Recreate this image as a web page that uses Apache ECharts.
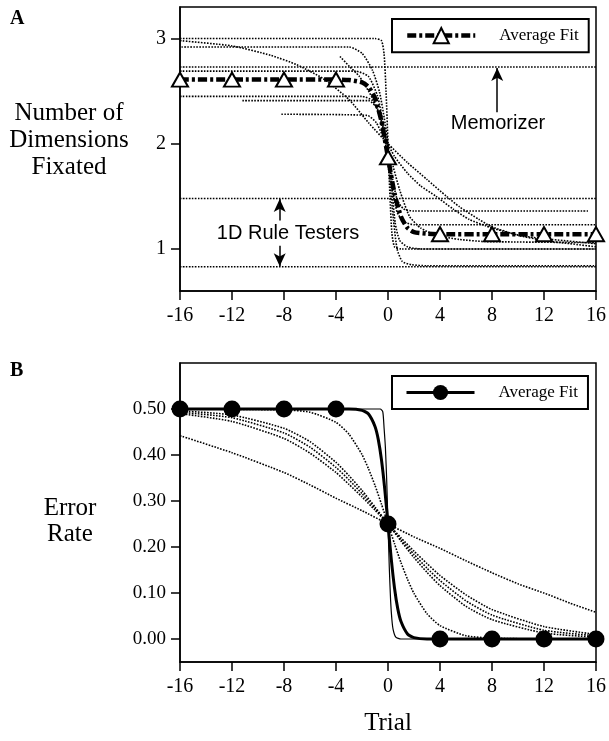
<!DOCTYPE html>
<html>
<head>
    <meta charset="utf-8">
    <title>Dimensions fixated / error rate</title>
    <style>
        body { margin: 0; background: #fff; }
        #chart { width: 609px; height: 741px; }
    </style>
</head>
<body>
    <div id="chart"></div>
    <script src="https://cdn.jsdelivr.net/npm/echarts@6/dist/echarts.min.js"></script>
    <script>
        // x ticks / marker trials
        var trialTicks = [-16, -12, -8, -4, 0, 4, 8, 12, 16];
        var dimTicks = [1, 2, 3];
        var errTicks = [0, 0.1, 0.2, 0.3, 0.4, 0.5];

        // panel A: individual fits, [trial, dimensions]
        var fitStep = [[-16, 3.0], [-1, 3.0], [-0.5, 2.98], [-0.3, 2.85], [-0.15, 2.5], [0, 2.0], [0.15, 1.5], [0.3, 1.15], [0.5, 1.02], [1, 1.0], [16, 1.0]];
        var fitSlow = [[-16, 2.98], [-12, 2.93], [-9, 2.84], [-7, 2.75], [-5, 2.62], [-3, 2.42], [-1.5, 2.2], [0, 2.0], [1.5, 1.82], [3, 1.66], [4.5, 1.5], [5.5, 1.4], [7, 1.28], [8, 1.21], [10, 1.13], [12, 1.08], [14, 1.05], [16, 1.02]];
        var fitHigh = [[-16, 2.92], [-3, 2.92], [-2, 2.86], [-1.2, 2.7], [-0.65, 2.49], [-0.27, 2.23], [0, 2.0], [0.25, 1.65], [0.55, 1.25], [0.9, 1.08], [1.5, 1.02], [2.5, 1.0], [16, 1.0]];
        var fitMid = [[-16, 2.69], [-2.5, 2.69], [-1.5, 2.64], [-0.8, 2.45], [-0.3, 2.15], [0, 1.95], [0.3, 1.6], [0.7, 1.35], [1.2, 1.26], [2, 1.23], [16, 1.23]];
        var fitLowEnd = [[-16, 2.45], [-2, 2.45], [-1.2, 2.41], [-0.6, 2.25], [-0.2, 2.0], [0.1, 1.7], [0.4, 1.3], [0.7, 1.0], [1.1, 0.88], [1.8, 0.85], [3, 0.84], [16, 0.84]];
        var fitShortA = [[-11.2, 2.41], [-1.5, 2.41], [-0.8, 2.33], [-0.3, 2.12], [0, 1.95], [0.3, 1.7], [0.7, 1.47], [1.2, 1.38], [2, 1.36], [15.5, 1.36]];
        var fitShortB = [[-8.2, 2.28], [-1.6, 2.27], [-0.9, 2.2], [-0.4, 2.07], [0, 1.95], [0.4, 1.78], [0.9, 1.56], [1.65, 1.31], [2.5, 1.2], [3.7, 1.13], [5.5, 1.09], [7.5, 1.07], [16, 1.06]];
        var fitLate = [[-3.7, 2.83], [-3, 2.74], [-2.2, 2.64], [-1.5, 2.5], [-0.9, 2.36], [-0.15, 2.04], [0.5, 1.88], [1.5, 1.72], [2.5, 1.6], [3.7, 1.5], [5, 1.38], [6.25, 1.28], [7.5, 1.22], [8.8, 1.17], [10.5, 1.12], [12.6, 1.09], [16, 1.05]];
        var memorizer = [[-16, 2.73], [16, 2.73]];
        var ruleHigh = [[-16, 1.48], [16, 1.48]];
        var ruleLow = [[-16, 0.83], [16, 0.83]];
        var avgDims = [[-16, 2.61], [-12, 2.61], [-8, 2.61], [-4, 2.61], [-3, 2.606], [-2, 2.583], [-1.5, 2.54], [-1, 2.434], [-0.5, 2.212], [0, 1.87], [0.5, 1.528], [1, 1.306], [1.5, 1.2], [2, 1.16], [3, 1.145], [4, 1.14], [8, 1.14], [12, 1.14], [16, 1.14]];

        // panel B: individual fits, [trial, error rate]
        var errStep = [[-16, 0.5], [-0.6, 0.5], [-0.4, 0.494], [-0.3, 0.458], [-0.2, 0.416], [-0.1, 0.345], [0, 0.25], [0.1, 0.155], [0.2, 0.084], [0.3, 0.042], [0.4, 0.02], [0.6, 0.004], [1, 0], [16, 0]];
        var errSteep = [[-16, 0.5], [-8, 0.498], [-6, 0.493], [-4, 0.471], [-3, 0.445], [-2, 0.401], [-1.5, 0.37], [-1, 0.334], [-0.5, 0.293], [0, 0.25], [0.5, 0.207], [1, 0.166], [1.5, 0.13], [2, 0.099], [3, 0.055], [4, 0.029], [6, 0.007], [8, 0.002], [12, 0], [16, 0]];
        var errMidA = [[-16, 0.49], [-12, 0.473], [-8, 0.436], [-6, 0.404], [-4, 0.362], [-3, 0.336], [-2, 0.309], [-1, 0.28], [0, 0.25], [1, 0.22], [2, 0.191], [3, 0.164], [4, 0.138], [6, 0.096], [8, 0.064], [12, 0.027], [16, 0.01]];
        var errMidB = [[-16, 0.493], [-12, 0.481], [-8, 0.448], [-6, 0.417], [-4, 0.373], [-3, 0.346], [-2, 0.316], [-1, 0.284], [0, 0.25], [1, 0.216], [2, 0.184], [3, 0.154], [4, 0.127], [6, 0.083], [8, 0.052], [12, 0.019], [16, 0.007]];
        var errMidC = [[-16, 0.496], [-12, 0.487], [-8, 0.458], [-6, 0.429], [-4, 0.384], [-3, 0.355], [-2, 0.323], [-1, 0.287], [0, 0.25], [1, 0.213], [2, 0.177], [3, 0.145], [4, 0.116], [6, 0.071], [8, 0.042], [12, 0.013], [16, 0.004]];
        var errSlow = [[-16, 0.442], [-12, 0.405], [-8, 0.362], [-6, 0.335], [-4, 0.306], [-2, 0.279], [0, 0.25], [2, 0.222], [4, 0.197], [6, 0.17], [8, 0.144], [10, 0.12], [12, 0.1], [14, 0.078], [16, 0.058]];
        var avgErr = [[-16, 0.5], [-12, 0.5], [-8, 0.5], [-4, 0.5], [-3, 0.5], [-2, 0.497], [-1.5, 0.489], [-1, 0.462], [-0.75, 0.434], [-0.5, 0.389], [-0.25, 0.326], [0, 0.25], [0.25, 0.174], [0.5, 0.111], [0.75, 0.066], [1, 0.038], [1.5, 0.011], [2, 0.003], [3, 0], [4, 0], [8, 0], [12, 0], [16, 0]];

        var serif = 'Liberation Serif';
        var avgDash = [9, 3, 3, 3];

        function dotted(data, grid, offset) {
            return {
                type: 'line',
                xAxisIndex: grid,
                yAxisIndex: grid,
                data: data,
                symbol: 'none',
                smooth: 0.2,
                lineStyle: { color: '#000', width: 1.6, type: [1.6, 1.4], dashOffset: offset || 0 },
                z: 2
            };
        }

        // markers only at the tick trials
        function withMarkers(data) {
            return data.map(function (p) {
                return trialTicks.indexOf(p[0]) >= 0 ? { value: p } : { value: p, symbol: 'none' };
            });
        }

        function xAxis(grid) {
            return {
                type: 'value',
                gridIndex: grid,
                min: -16,
                max: 16,
                interval: 4,
                axisLine: { onZero: false, lineStyle: { color: '#000', width: 1.5 } },
                axisTick: { length: 9, lineStyle: { color: '#000', width: 1.5 } },
                axisLabel: { color: '#000', fontFamily: serif, fontSize: 20, margin: 15 },
                splitLine: { show: false }
            };
        }

        function legend(name, top, lineStyle) {
            return {
                data: [name],
                left: 392, top: top,
                selectedMode: false,
                itemWidth: 68, itemHeight: 19,
                borderColor: '#000', borderWidth: 2, borderRadius: 0,
                padding: [8, 10, 8, 13],
                lineStyle: lineStyle,
                formatter: function () { return 'Average Fit'; },
                textStyle: { color: '#000', fontFamily: serif, fontSize: 17, padding: [0, 0, 0, 19] }
            };
        }

        var memoSeries = dotted(memorizer, 0);
        memoSeries.markLine = {
            silent: true,
            animation: false,
            symbol: ['none', 'arrow'],
            symbolSize: [9, 13],
            label: { show: false },
            lineStyle: { color: '#000', type: 'solid', width: 1.5 },
            data: [
                [{ coord: [8.4, 2.3] }, { coord: [8.4, 2.72] }],
                [{ coord: [-8.33, 1.27] }, { coord: [-8.33, 1.475] }],
                [{ coord: [-8.33, 1.03] }, { coord: [-8.33, 0.835] }]
            ]
        };

        var chart = echarts.init(document.getElementById('chart'));
        chart.setOption({
            animation: false,
            backgroundColor: '#fff',
            grid: [
                { left: 180, top: 7, width: 417, height: 284, show: true, borderColor: '#000', borderWidth: 1.5 },
                { left: 180, top: 363, width: 417, height: 299, show: true, borderColor: '#000', borderWidth: 1.5 }
            ],
            xAxis: [xAxis(0), xAxis(1)],
            yAxis: [
                {
                    type: 'value', gridIndex: 0, min: 0.6, max: 3.3,
                    axisLine: { show: true, onZero: false, lineStyle: { color: '#000', width: 1.5 } },
                    axisTick: { show: true, length: 9, customValues: dimTicks, lineStyle: { color: '#000', width: 1.5 } },
                    axisLabel: { color: '#000', fontFamily: serif, fontSize: 20, margin: 14, customValues: dimTicks },
                    splitLine: { show: false }
                },
                {
                    type: 'value', gridIndex: 1, min: -0.05, max: 0.6,
                    axisLine: { show: true, onZero: false, lineStyle: { color: '#000', width: 1.5 } },
                    axisTick: { show: true, length: 9, customValues: errTicks, lineStyle: { color: '#000', width: 1.5 } },
                    axisLabel: {
                        color: '#000', fontFamily: serif, fontSize: 19, margin: 14, customValues: errTicks,
                        formatter: function (v) { return v.toFixed(2); }
                    },
                    splitLine: { show: false }
                }
            ],
            legend: [
                legend('Average Fit', 19, { color: '#000', width: 4.5, type: avgDash }),
                legend('Average Fit B', 376, { color: '#000', width: 3, type: 'solid' })
            ],
            series: [
                dotted(fitStep, 0),
                dotted(fitSlow, 0),
                dotted(fitHigh, 0, 1.5),
                dotted(fitMid, 0),
                dotted(fitLowEnd, 0),
                dotted(fitShortA, 0),
                dotted(fitShortB, 0),
                dotted(fitLate, 0),
                memoSeries,
                dotted(ruleHigh, 0),
                dotted(ruleLow, 0),
                {
                    name: 'Average Fit',
                    type: 'line',
                    xAxisIndex: 0, yAxisIndex: 0,
                    data: withMarkers(avgDims),
                    smooth: 0.2,
                    symbol: 'triangle',
                    symbolSize: [16, 14],
                    showAllSymbol: true,
                    lineStyle: { color: '#000', width: 4.5, type: avgDash },
                    itemStyle: { color: '#fff', borderColor: '#000', borderWidth: 2 },
                    z: 5
                },
                dotted(errSteep, 1),
                dotted(errMidA, 1),
                dotted(errMidB, 1),
                dotted(errMidC, 1),
                dotted(errSlow, 1),
                {
                    type: 'line',
                    xAxisIndex: 1, yAxisIndex: 1,
                    data: errStep,
                    symbol: 'none',
                    smooth: 0.2,
                    lineStyle: { color: '#000', width: 1.2 },
                    z: 3
                },
                {
                    name: 'Average Fit B',
                    type: 'line',
                    xAxisIndex: 1, yAxisIndex: 1,
                    data: withMarkers(avgErr),
                    smooth: 0.2,
                    symbol: 'circle',
                    symbolSize: 17,
                    showAllSymbol: true,
                    lineStyle: { color: '#000', width: 3 },
                    itemStyle: { color: '#000' },
                    z: 5
                }
            ],
            graphic: [
                { type: 'text', style: { text: 'A', x: 10, y: 9, font: 'bold 20px "Liberation Serif"', fill: '#000' } },
                { type: 'text', style: { text: 'B', x: 10, y: 361, font: 'bold 20px "Liberation Serif"', fill: '#000' } },
                {
                    type: 'text',
                    style: {
                        text: 'Number of\nDimensions\nFixated', x: 69, y: 140,
                        font: '25px "Liberation Serif"', lineHeight: 27, fill: '#000',
                        align: 'center', verticalAlign: 'middle', textAlign: 'center', textVerticalAlign: 'middle'
                    }
                },
                {
                    type: 'text',
                    style: {
                        text: 'Error\nRate', x: 70, y: 521,
                        font: '25px "Liberation Serif"', lineHeight: 26, fill: '#000',
                        align: 'center', verticalAlign: 'middle', textAlign: 'center', textVerticalAlign: 'middle'
                    }
                },
                {
                    type: 'text',
                    style: {
                        text: 'Trial', x: 388, y: 723, font: '25px "Liberation Serif"', fill: '#000',
                        align: 'center', verticalAlign: 'middle', textAlign: 'center', textVerticalAlign: 'middle'
                    }
                },
                {
                    type: 'text', z: 10,
                    style: {
                        text: 'Memorizer', x: 498, y: 123, font: '20px "Liberation Sans"', fill: '#000',
                        align: 'center', verticalAlign: 'middle', textAlign: 'center', textVerticalAlign: 'middle'
                    }
                },
                {
                    type: 'text', z: 10,
                    style: {
                        text: '1D Rule Testers', x: 288, y: 233, font: '20px "Liberation Sans"', fill: '#000',
                        align: 'center', verticalAlign: 'middle', textAlign: 'center', textVerticalAlign: 'middle'
                    }
                }
            ]
        });
    </script>
</body>
</html>
